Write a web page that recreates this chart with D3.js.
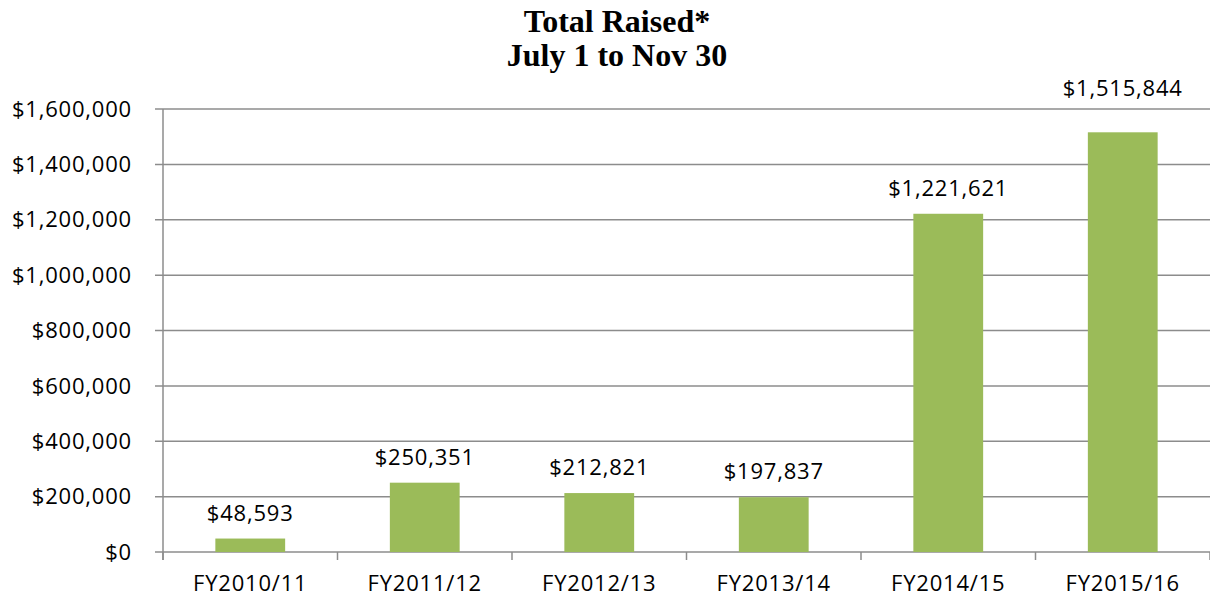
<!DOCTYPE html>
<html><head><meta charset="utf-8">
<script src="https://cdn.jsdelivr.net/npm/d3@7"></script>
<style>body{margin:0;background:#fff}</style>
</head><body>
<svg id="c" width="1210" height="602"></svg>
<script>
const categories = ["FY2010/11","FY2011/12","FY2012/13","FY2013/14","FY2014/15","FY2015/16"];
const values = [48593, 250351, 212821, 197837, 1221621, 1515844];
const yTicks = [0,200000,400000,600000,800000,1000000,1200000,1400000,1600000];
const titleLines = ["Total Raised*","July 1 to Nov 30"];

const svg = d3.select("#c");
const m = {left:163, right:0, top:109, bottom:50};
const W = 1210, H = 602;
const y = d3.scaleLinear().domain([0,1600000]).range([H - m.bottom, m.top]);
const font = "'Open Sans', sans-serif";
const fs = 22;
const ls = 0.8;
const fmt = v => "$" + d3.format(",")(v);
const grid = "#8c8c8c";

// gridlines
svg.append("g").selectAll("line").data(yTicks).join("line")
  .attr("x1", m.left - 8).attr("x2", W - m.right)
  .attr("y1", d => y(d)).attr("y2", d => y(d))
  .attr("stroke", grid).attr("stroke-width", 1.5);

// y axis line
svg.append("line").attr("x1", m.left).attr("x2", m.left)
  .attr("y1", y(1600000)).attr("y2", y(0) + 8)
  .attr("stroke", grid).attr("stroke-width", 1.5);

// category ticks
const step = (W - m.right - m.left) / categories.length;
svg.append("g").selectAll("line").data(d3.range(categories.length + 1)).join("line")
  .attr("x1", i => m.left + i * step).attr("x2", i => m.left + i * step)
  .attr("y1", y(0)).attr("y2", y(0) + 8)
  .attr("stroke", grid).attr("stroke-width", 1.5);

// y labels
svg.append("g").selectAll("text").data(yTicks).join("text")
  .attr("x", m.left - 31).attr("y", d => y(d)).attr("dy", "0.35em")
  .attr("text-anchor", "end").attr("font-family", font).attr("font-size", fs)
  .attr("letter-spacing", ls).attr("fill", "#000").text(fmt);

// bars
const band = step * 0.4;
svg.append("g").selectAll("rect").data(values).join("rect")
  .attr("x", (d,i) => m.left + i*step + (step - band)/2)
  .attr("width", band)
  .attr("y", d => y(d)).attr("height", d => y(0) - y(d))
  .attr("fill", "#9bbb59");

// data labels (pushed above the top gridline when they would collide with it)
const labelY = d => { const ly = y(d) - 18; return ly < y(1600000) + 10 ? y(1600000) - 13 : ly; };
svg.append("g").selectAll("text").data(values).join("text")
  .attr("x", (d,i) => m.left + i*step + step/2)
  .attr("y", labelY)
  .attr("text-anchor", "middle").attr("font-family", font).attr("font-size", fs)
  .attr("letter-spacing", ls).attr("fill", "#000").text(fmt);

// x labels
svg.append("g").selectAll("text").data(categories).join("text")
  .attr("x", (d,i) => m.left + i*step + step/2)
  .attr("y", y(0) + 39)
  .attr("text-anchor", "middle").attr("font-family", font).attr("font-size", fs)
  .attr("letter-spacing", ls).attr("fill", "#000").text(d => d);

// title
svg.append("g").selectAll("text").data(titleLines).join("text")
  .attr("x", 617).attr("y", (d,i) => 32 + i*34)
  .attr("text-anchor", "middle").attr("font-family", "'Liberation Serif', 'Times New Roman', serif")
  .attr("font-weight", "bold").attr("font-size", 32).attr("fill", "#000").text(d => d);
</script>
</body></html>
